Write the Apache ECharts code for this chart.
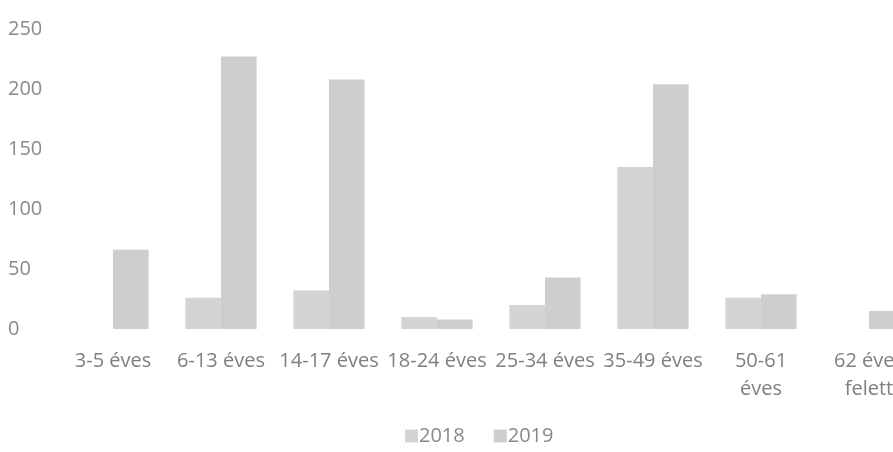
<!DOCTYPE html>
<html>
<head>
<meta charset="utf-8">
<script src="https://cdn.jsdelivr.net/npm/echarts@6/dist/echarts.min.js"></script>
<style>html,body{margin:0;padding:0;background:#fff}#c{width:893px;height:452px}</style>
</head>
<body>
<div id="c"></div>
<script>
var categories = ['3-5 éves', '6-13 éves', '14-17 éves', '18-24 éves', '25-34 éves', '35-49 éves', '50-61\néves', '62 éves\nfelett'];
var values2018 = [0, 26, 32, 10, 20, 135, 26, 0];
var values2019 = [66, 227, 208, 8, 43, 204, 29, 15];
var yTicks = [0, 50, 100, 150, 200, 250];

var chart = echarts.init(document.getElementById('c'), null, {renderer: 'canvas'});
var font = '"Open Sans", sans-serif';
chart.setOption({
  animation: false,
  textStyle: {fontFamily: font},
  grid: {left: 59, top: 29, width: 864, height: 300, containLabel: false, outerBoundsMode: 'none'},
  legend: {
    data: ['2018', '2019'],
    bottom: 1,
    left: 400,
    itemWidth: 13,
    itemHeight: 13,
    itemGap: 29,
    icon: 'rect',
    textStyle: {fontFamily: font, fontSize: 20, color: '#8a8a8a', padding: [0, 0, 0, -4]}
  },
  xAxis: {
    type: 'category',
    data: categories,
    axisLine: {show: false},
    axisTick: {show: false},
    axisLabel: {fontFamily: font, fontSize: 20, color: '#7f7f7f', margin: 18, lineHeight: 28, interval: 0}
  },
  yAxis: {
    type: 'value',
    min: yTicks[0],
    max: yTicks[yTicks.length - 1],
    interval: 50,
    splitLine: {show: false},
    axisLine: {show: false},
    axisTick: {show: false},
    axisLabel: {fontFamily: font, fontSize: 20, color: '#8a8a8a', align: 'left', margin: 51}
  },
  series: [
    {name: '2018', type: 'bar', data: values2018, barGap: '0%', barCategoryGap: '34%', itemStyle: {color: '#d4d4d4'}},
    {name: '2019', type: 'bar', data: values2019, barGap: '0%', barCategoryGap: '34%', itemStyle: {color: '#cecece'}}
  ]
});
</script>
</body>
</html>
